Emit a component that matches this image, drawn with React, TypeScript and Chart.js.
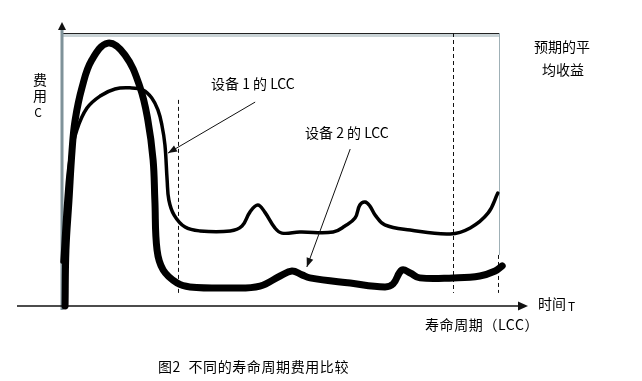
import React, { useEffect, useRef } from "react";
import { Chart, registerables } from "chart.js";

Chart.register(...registerables);

// Schematic time axis (0..100) and cost axis (0..100)
const CURVE1_T = [0, 0.9, 1.8, 3.4, 5.7, 8.7, 12.1, 15.5, 18.5, 20.5, 21.9, 22.8, 23.5, 24.0, 24.4, 25.6, 28.1, 31.5, 38.4, 41.1, 42.9, 44.7, 46.3, 48.6, 50.2, 54.3, 61.9, 64.6, 66.9, 68.0, 69.2, 70.3, 71.5, 73.7, 79.5, 88.6, 93.2, 97.3, 99.5];
const CURVE1_C = [16.1, 38.8, 53.5, 64.5, 72.5, 76.9, 79.5, 79.9, 79.1, 76.2, 71.8, 66.3, 59.0, 46.2, 38.8, 33.3, 28.9, 27.5, 27.5, 29.3, 34.4, 37.0, 34.4, 28.6, 26.7, 27.1, 27.1, 29.3, 32.2, 37.0, 38.1, 36.6, 33.3, 29.7, 27.8, 26.4, 28.6, 34.1, 41.4];

const CURVE2_T = [0.7, 0.9, 1.6, 2.3, 3.0, 4.6, 6.8, 10.5, 14.4, 17.8, 19.6, 20.8, 21.2, 21.7, 23.1, 26.3, 29.2, 38.4, 45.2, 49.8, 52.5, 54.8, 56.6, 65.8, 73.7, 75.6, 77.6, 79.5, 81.7, 89.3, 95.4, 98.9, 100.5];
const CURVE2_C = [0, 20.5, 38.8, 57.1, 68.1, 80.2, 90.1, 96.3, 91.9, 80.2, 68.1, 53.5, 38.8, 20.5, 13.2, 8.4, 7.0, 6.6, 7.3, 11.0, 12.8, 11.4, 10.3, 8.4, 7.0, 8.1, 13.2, 12.1, 10.3, 10.3, 11.0, 12.8, 14.7];

// Dashed markers: time position, cost from, cost to
const DASH_T = [26.5, 89.3, 99.5];
const DASH_FROM = [4.8, 4.8, 4.8];
const DASH_TO = [75.5, 100, 18.7];

// Pointer arrows: [t0, c0, t1, c1]
const ARROW1 = [44.1, 74.7, 24.2, 56.0];
const ARROW2 = [65.8, 57.5, 55.9, 14.3];

const LABEL1 = "设备 1 的 LCC";
const LABEL2 = "设备 2 的 LCC";
const Y_TITLE = ["费", "用"];
const X_TITLE = "时间";
const X_SUB = "寿命周期（LCC）";
const RIGHT_NOTE = ["预期的平", "均收益"];
const CAPTION = "图2  不同的寿命周期费用比较";

const CJK = '"Noto Sans CJK SC", "Noto Sans", sans-serif';

function arrowHead(ctx: CanvasRenderingContext2D, x0: number, y0: number, x1: number, y1: number, len: number, wid: number) {
  const a = Math.atan2(y1 - y0, x1 - x0);
  ctx.beginPath();
  ctx.moveTo(x1, y1);
  ctx.lineTo(x1 - len * Math.cos(a) + wid * Math.sin(a), y1 - len * Math.sin(a) - wid * Math.cos(a));
  ctx.lineTo(x1 - len * Math.cos(a) - wid * Math.sin(a), y1 - len * Math.sin(a) + wid * Math.cos(a));
  ctx.closePath();
  ctx.fill();
}

const decorPlugin = {
  id: "decor",
  beforeDatasetsDraw(chart: any) {
    const { ctx, chartArea, scales } = chart;
    const xs = scales.x, ys = scales.y;
    const L = chartArea.left, R = chartArea.right, T = chartArea.top, B = chartArea.bottom;
    ctx.save();
    // top border with gray shading
    ctx.fillStyle = "#c9d3d6";
    ctx.fillRect(L, T, R - L, 4);
    ctx.strokeStyle = "#222";
    ctx.lineWidth = 1.2;
    ctx.beginPath();
    ctx.moveTo(L, T + 0.5);
    ctx.lineTo(R, T + 0.5);
    ctx.stroke();
    // right border
    ctx.strokeStyle = "#9fb0b6";
    ctx.lineWidth = 1;
    ctx.beginPath();
    ctx.moveTo(R - 0.5, T);
    ctx.lineTo(R - 0.5, ys.getPixelForValue(18.7));
    ctx.stroke();
    // dashed markers
    ctx.strokeStyle = "#111";
    ctx.lineWidth = 1;
    ctx.setLineDash([4, 3]);
    DASH_T.forEach((t, i) => {
      const x = Math.round(xs.getPixelForValue(t)) + 0.5;
      ctx.beginPath();
      ctx.moveTo(x, ys.getPixelForValue(DASH_TO[i]));
      ctx.lineTo(x, ys.getPixelForValue(DASH_FROM[i]));
      ctx.stroke();
    });
    ctx.setLineDash([]);
    // y axis (gray)
    ctx.strokeStyle = "#7f9299";
    ctx.lineWidth = 3;
    ctx.beginPath();
    ctx.moveTo(L, B + 4);
    ctx.lineTo(L, T - 6);
    ctx.stroke();
    ctx.fillStyle = "#111";
    arrowHead(ctx, L, T, L, T - 11, 8, 4);
    // x axis
    ctx.strokeStyle = "#111";
    ctx.lineWidth = 1.5;
    ctx.beginPath();
    ctx.moveTo(17, B);
    ctx.lineTo(R + 20, B);
    ctx.stroke();
    arrowHead(ctx, R, B, R + 28, B, 10, 4.5);
    ctx.restore();
  },
  afterDatasetsDraw(chart: any) {
    const { ctx, scales } = chart;
    const xs = scales.x, ys = scales.y;
    ctx.save();
    // pointer arrows
    ctx.strokeStyle = "#111";
    ctx.fillStyle = "#111";
    ctx.lineWidth = 1;
    [ARROW1, ARROW2].forEach((a) => {
      const x0 = xs.getPixelForValue(a[0]), y0 = ys.getPixelForValue(a[1]);
      const x1 = xs.getPixelForValue(a[2]), y1 = ys.getPixelForValue(a[3]);
      ctx.beginPath();
      ctx.moveTo(x0, y0);
      ctx.lineTo(x1, y1);
      ctx.stroke();
      arrowHead(ctx, x0, y0, x1, y1, 9, 3.5);
    });
    // texts
    ctx.fillStyle = "#000";
    ctx.textBaseline = "middle";
    ctx.textAlign = "left";
    ctx.font = `14px ${CJK}`;
    ctx.fillText(LABEL1, 211, 84);
    ctx.fillText(LABEL2, 305, 133);
    ctx.fillText(RIGHT_NOTE[0], 534, 47);
    ctx.fillText(RIGHT_NOTE[1], 542, 70);
    ctx.fillText(X_TITLE, 538, 304);
    ctx.font = `12px ${CJK}`;
    ctx.fillText("T", 568, 306);
    ctx.font = `14px ${CJK}`;
    ctx.textAlign = "center";
    ctx.fillText(Y_TITLE[0], 40, 80);
    ctx.fillText(Y_TITLE[1], 40, 96);
    ctx.font = `12px ${CJK}`;
    ctx.fillText("C", 38, 112);
    ctx.textAlign = "left";
    ctx.font = `14px ${CJK}`;
    (ctx as any).letterSpacing = "0.6px";
    ctx.fillText(X_SUB, 425, 325);
    ctx.fillText(CAPTION, 158, 367);
    (ctx as any).letterSpacing = "0px";
    ctx.restore();
  },
};

function toPoints(ts: number[], cs: number[]) {
  return ts.map((t, i) => ({ x: t, y: cs[i] }));
}

export default function App() {
  const ref = useRef<HTMLCanvasElement | null>(null);
  useEffect(() => {
    if (!ref.current) return;
    const chart = new Chart(ref.current, {
      type: "line",
      data: {
        datasets: [
          {
            label: "设备 1 的 LCC",
            data: toPoints(CURVE1_T, CURVE1_C),
            borderColor: "#000",
            borderWidth: 3.5,
            pointRadius: 0,
            fill: false,
            tension: 0.4,
            clip: false as any,
            borderCapStyle: "round",
            borderJoinStyle: "round",
          },
          {
            label: "设备 2 的 LCC",
            data: toPoints(CURVE2_T, CURVE2_C),
            borderColor: "#000",
            borderWidth: 7,
            pointRadius: 0,
            fill: false,
            tension: 0.4,
            clip: false as any,
            borderCapStyle: "round",
            borderJoinStyle: "round",
          },
        ],
      },
      options: {
        responsive: false,
        animation: false,
        layout: { padding: { left: 62, right: 142, top: 33, bottom: 75 } },
        scales: {
          x: { type: "linear", min: 0, max: 100, display: false },
          y: { type: "linear", min: 0, max: 100, display: false },
        },
        plugins: { legend: { display: false }, tooltip: { enabled: false } },
      },
      plugins: [decorPlugin],
    });
    return () => chart.destroy();
  }, []);
  return (
    <div style={{ position: "absolute", left: 0, top: 0, width: 642, height: 381, background: "#fff" }}>
      <canvas ref={ref} width={642} height={381} style={{ display: "block", width: 642, height: 381 }} />
    </div>
  );
}
